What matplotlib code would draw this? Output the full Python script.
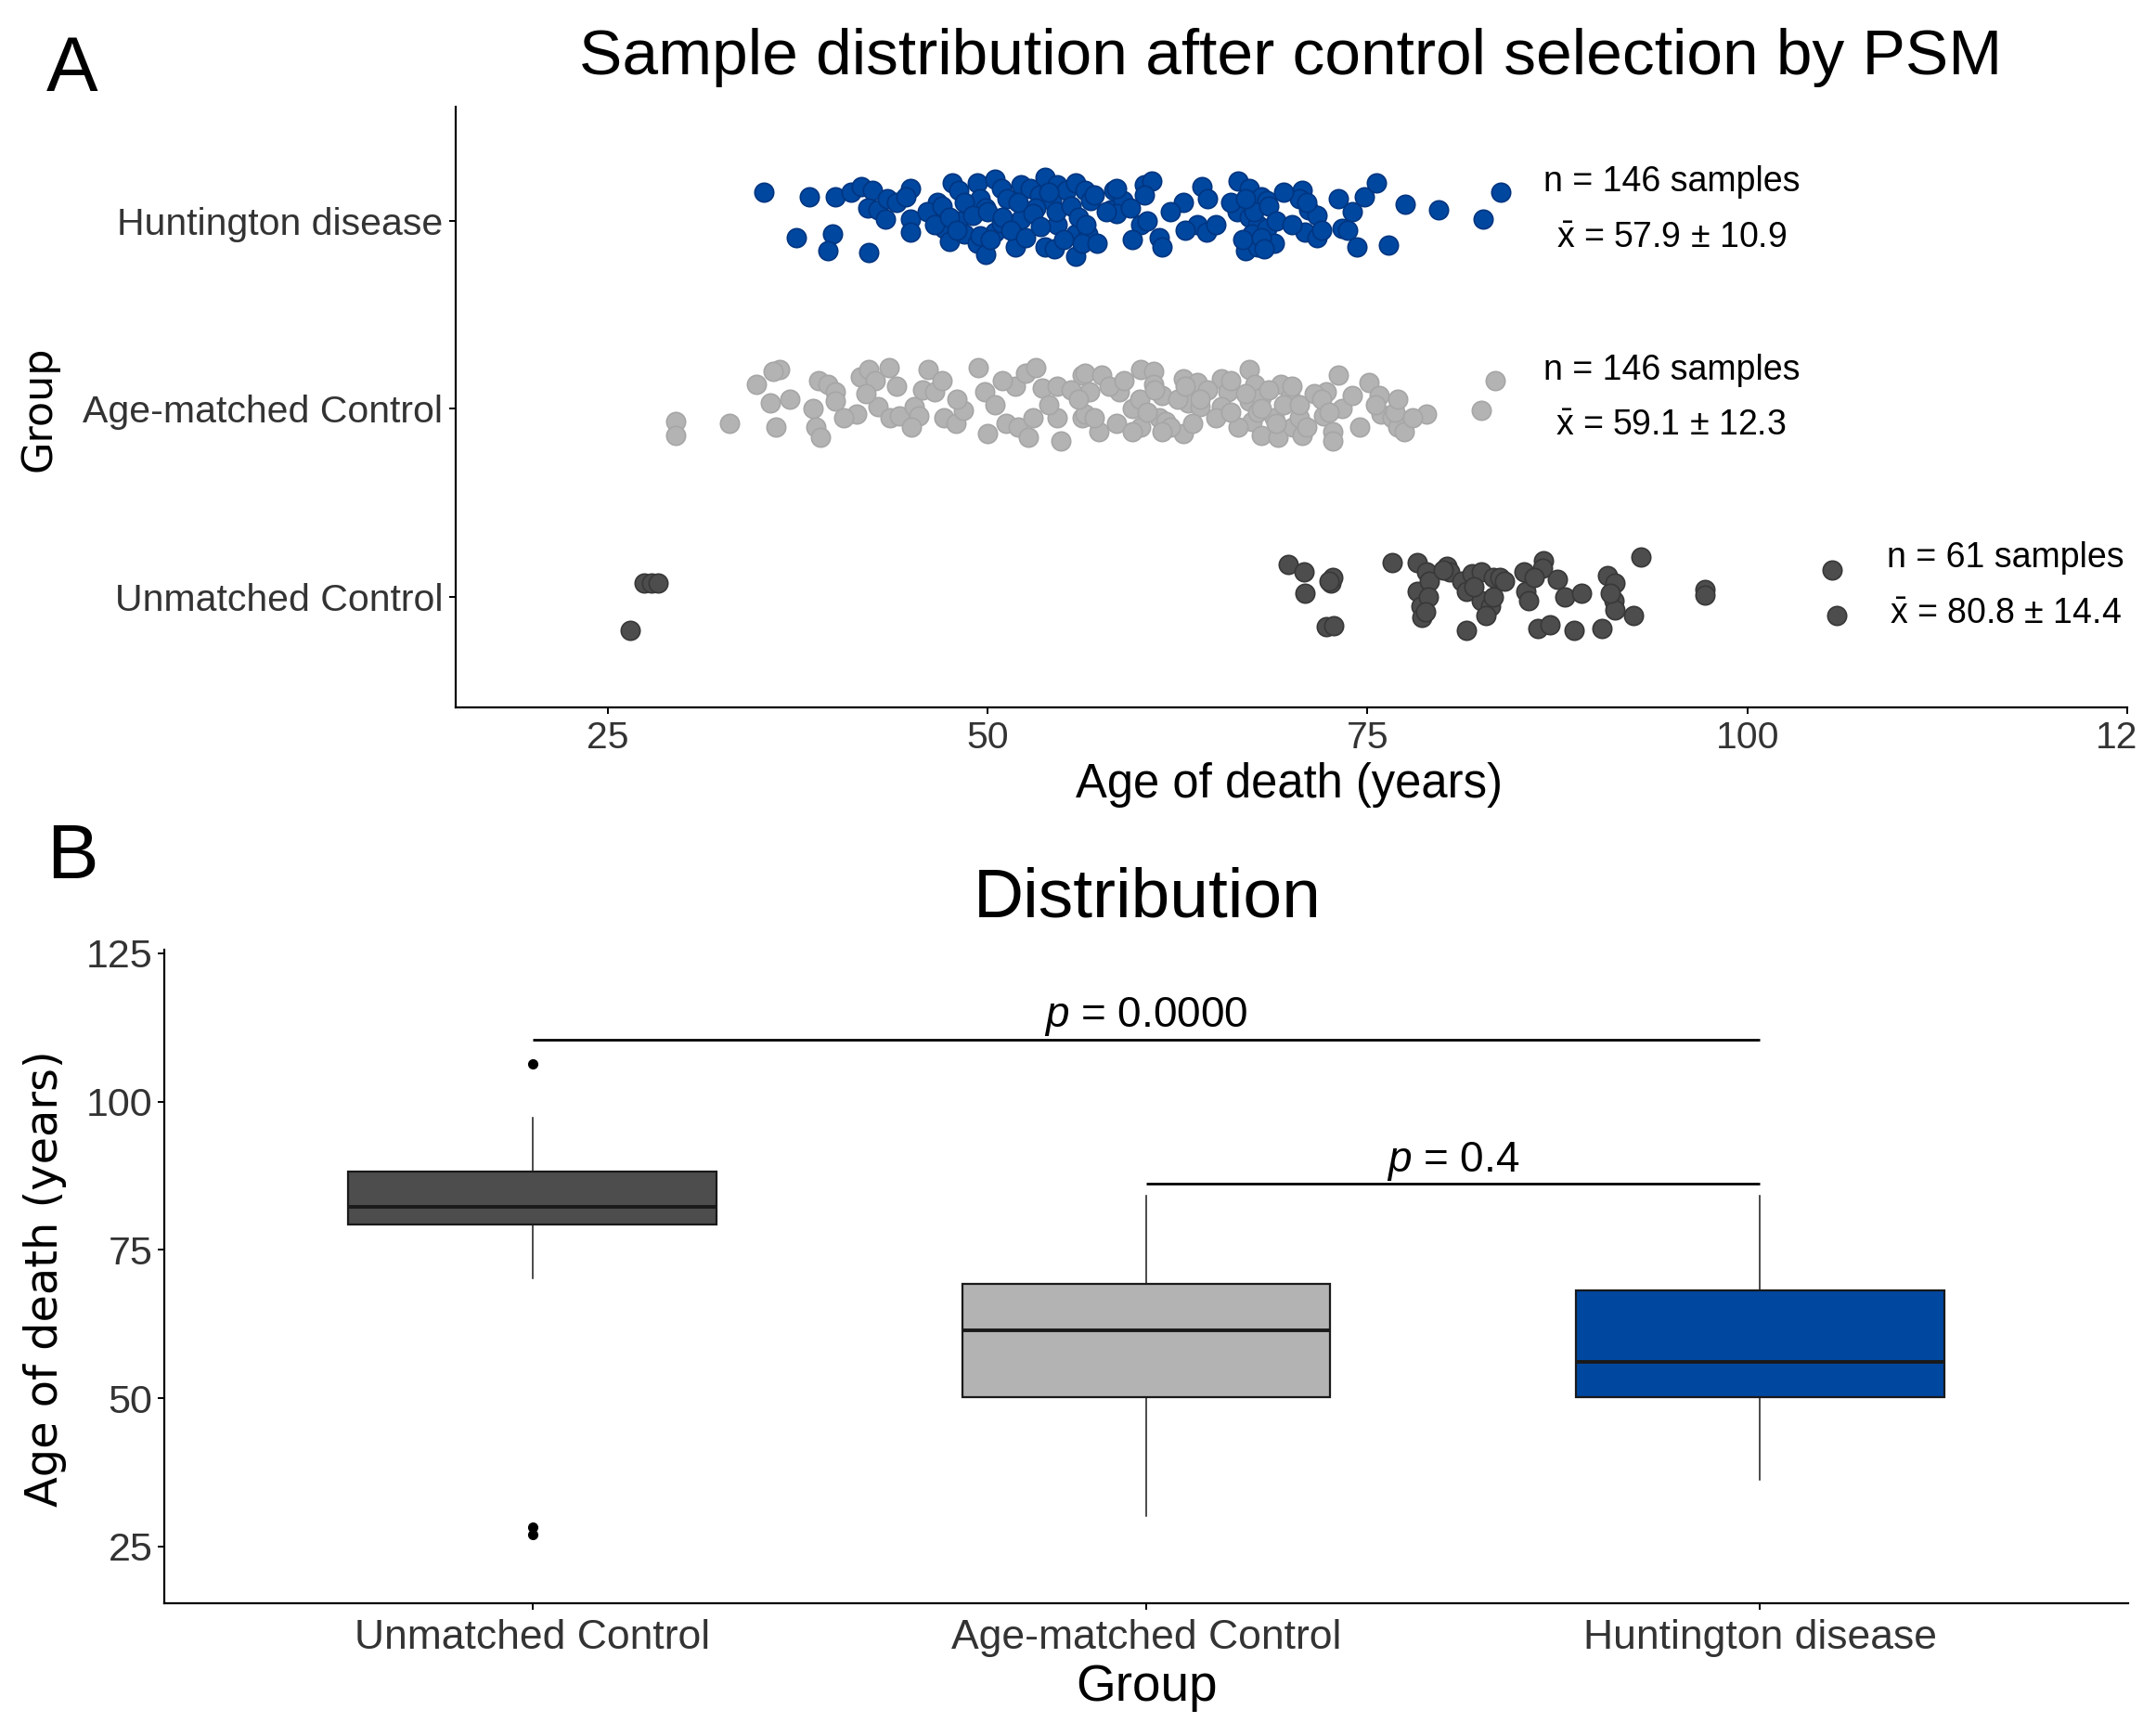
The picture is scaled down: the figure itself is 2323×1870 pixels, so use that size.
import matplotlib.pyplot as plt
from matplotlib.transforms import Bbox

plt.rcParams['font.family'] = ['Liberation Sans', 'DejaVu Sans']
plt.rcParams['mathtext.fontset'] = 'custom'
plt.rcParams['mathtext.rm'] = 'Liberation Sans'
plt.rcParams['mathtext.it'] = 'Liberation Sans:italic'

# groups, bottom to top in panel A and left to right in panel B
groups = ['Unmatched Control', 'Age-matched Control', 'Huntington disease']
fill_colors = ['#4d4d4d', '#b3b3b3', '#0047a0']
edge_colors = ['#383838', '#a6a6a6', '#003580']

group_n = [61, 146, 146]
group_mean = [80.8, 59.1, 57.9]
group_sd = [14.4, 12.3, 10.9]

# ages, with the vertical jitter of each dot
uc_age = [69.8, 70.8, 70.9, 72.6, 72.7, 72.3, 72.8, 76.6, 78.3, 78.9,
          80.2, 80.4, 78.3, 78.5, 78.6, 79.1, 81.2, 81.9, 82.5, 83.3,
          83.7, 81.5, 82.5, 83.1, 82.8, 83.3, 81.5, 86.2, 87.0, 88.6,
          90.4, 85.3, 85.4, 85.6, 86.6, 86.5, 87.5, 88.0, 89.1, 90.8,
          91.3, 91.2, 91.3, 92.5, 93.0, 97.2, 97.2, 105.6, 105.9, 27.4,
          27.9, 28.3, 26.5, 79.0, 80.0, 82.0, 84.0, 78.8, 91.0, 72.5,
          86.0]
uc_jit = [0.17, 0.13, 0.02, 0.07, 0.10, -0.16, -0.155, 0.18, 0.18, 0.13,
          0.16, 0.13, 0.03, -0.05, -0.11, 0.08, 0.08, 0.12, 0.13, 0.10,
          0.10, 0.03, -0.02, -0.05, -0.10, 0.0, -0.18, -0.17, -0.15, -0.18,
          -0.17, 0.13, 0.03, -0.02, 0.19, 0.15, 0.09, 0.0, 0.02, 0.11,
          0.07, -0.02, -0.07, -0.10, 0.21, 0.04, 0.01, 0.14, -0.10, 0.07,
          0.07, 0.07, -0.18, 0.0, 0.14, 0.05, 0.08, -0.08, 0.02, 0.08,
          0.10]

am_age = [29.5, 29.5, 33.0, 34.8, 36.3, 35.9, 35.7, 36.1, 38.5, 38.7,
          39.0, 38.9, 39.5, 40.0, 40.0, 41.4, 41.6, 42.2, 42.6, 43.5,
          42.8, 43.6, 44.2, 45.2, 45.5, 45.7, 46.5, 46.1, 47.1, 47.9,
          48.4, 49.4, 49.8, 50.0, 51.2, 52.0, 52.7, 51.8, 52.5, 53.2,
          53.6, 54.6, 54.6, 54.8, 56.2, 56.2,
          56.4, 57.5, 56.7, 56.4, 57.3, 58.7, 59.5, 60.1, 60.1, 60.9,
          60.9, 61.5, 61.3, 61.7, 62.9, 62.9, 63.8, 63.2, 64.0, 65.4,
          65.8, 65.4, 67.2, 67.6, 67.2, 68.0, 69.3, 69.9, 67.4, 68.0,
          69.1, 68.9, 70.1, 70.7, 70.5, 72.1, 72.7, 72.7, 73.3, 74.0,
          72.3, 73.1, 75.1, 75.8, 75.9, 76.6, 77.0, 77.4, 76.8, 78.9,
          82.5, 83.4,
          37.0, 40.5, 42.0, 44.0, 45.0, 47.0, 48.0, 50.5, 51.0, 53.0,
          54.0, 55.5, 56.0, 57.0, 58.0, 58.5, 59.0, 59.5, 60.0, 60.5,
          61.0, 62.0, 62.5, 63.0, 63.5, 64.5, 65.0, 66.0, 66.5, 67.0,
          67.8, 68.5, 69.0, 69.5, 70.0, 70.5, 71.0, 71.5, 72.0, 72.5,
          74.5, 75.5, 77.0, 78.0, 68.0, 66.0, 64.0, 61.5]
am_jit = [-0.07, -0.14, -0.08, 0.13, 0.21, 0.20, 0.03, -0.10, 0.0, -0.10,
          -0.15, 0.15, 0.13, 0.09, 0.04, -0.03, 0.17, 0.21, 0.15, 0.22,
          0.01, -0.05, -0.04, 0.01, -0.04, 0.10, 0.09, 0.21, -0.05, -0.08,
          -0.01, 0.22, 0.09, -0.13, -0.08, -0.10, -0.15, 0.12, 0.19, 0.22,
          0.11, 0.12, -0.05, -0.17, 0.18, -0.05,
          0.19, 0.18, 0.09, -0.03, -0.12, 0.09, 0.0, -0.10, 0.21, 0.20,
          0.13, 0.07, -0.05, -0.07, -0.13, 0.16, 0.14, 0.03, 0.01, 0.16,
          0.09, 0.01, 0.21, 0.13, 0.04, 0.06, 0.13, 0.06, -0.07, -0.14,
          -0.15, -0.05, -0.10, -0.14, -0.05, -0.04, -0.12, -0.17, 0.0, 0.07,
          0.09, 0.18, 0.14, 0.07, -0.03, -0.05, -0.10, -0.12, -0.02, -0.03,
          -0.01, 0.15,
          0.05, -0.05, 0.08, 0.12, -0.10, 0.15, 0.05, 0.02, 0.15, -0.05,
          0.02, 0.10, 0.05, -0.05, 0.12, -0.08, 0.15, -0.12, 0.05, -0.02,
          0.10, -0.10, 0.05, 0.12, -0.08, 0.10, -0.05, 0.15, -0.10, 0.08,
          -0.02, 0.10, -0.08, 0.02, 0.12, 0.02, -0.10, 0.08, 0.05, -0.02,
          -0.10, 0.02, 0.05, -0.05, 0.0, -0.02, 0.05, -0.12]

hd_age = [35.3, 38.3, 37.4, 39.8, 39.5, 40.0, 42.2, 41.0, 41.7, 42.4,
          42.1, 42.8, 43.4, 43.3, 44.0, 44.9, 44.6, 44.9, 44.9, 46.7,
          46.9, 47.1, 47.7, 48.1, 47.5, 48.1, 48.5, 49.3, 49.5, 49.9,
          49.3, 49.9, 50.5, 50.9, 51.3, 50.5, 50.9, 51.8, 52.2, 52.8,
          53.4, 53.8, 54.2, 53.2, 52.2, 54.6, 55.2, 55.8, 56.4, 56.8,
          54.6, 53.8, 54.4, 55.8, 56.6, 55.8, 56.2, 58.3, 58.1, 58.9,
          58.5, 58.5, 59.4, 60.1, 60.3, 60.8, 60.3, 61.3, 61.5, 62.9,
          64.1, 63.8, 64.4, 65.0, 66.5, 67.2, 68.0, 68.4, 66.4, 67.2,
          67.8, 67.4, 67.0, 67.8, 68.4, 68.9, 70.7, 70.5, 71.1, 71.7,
          70.9, 71.7, 73.1, 73.3, 73.7, 74.3, 74.8, 75.6, 76.4, 77.5,
          79.7, 82.6, 83.8,
          46.0, 46.5, 47.0, 47.5, 48.0, 48.5, 49.0, 49.5, 50.0, 50.2,
          51.0, 51.5, 52.0, 52.5, 53.0, 53.5, 54.0, 54.5, 55.0, 55.5,
          56.0, 56.5, 57.0, 57.2, 57.8, 66.0, 66.8, 67.5, 68.0, 68.5,
          69.0, 67.0, 68.2, 69.5, 70.0, 71.0, 72.0, 62.0, 63.0, 64.5,
          60.5, 59.5, 74.0]
hd_jit = [0.15, 0.13, -0.09, -0.07, -0.16, 0.13, -0.17, 0.15, 0.18, 0.16,
          0.07, 0.06, 0.12, 0.01, 0.10, 0.17, 0.13, 0.01, -0.06, 0.10,
          0.04, -0.04, 0.20, 0.16, -0.11, 0.0, -0.07, 0.20, 0.12, 0.07,
          -0.12, -0.18, 0.22, 0.17, 0.12, -0.06, -0.01, -0.14, 0.19, 0.17,
          0.14, 0.23, 0.11, 0.07, 0.01, 0.19, 0.16, 0.20, 0.16, 0.11,
          -0.02, -0.14, -0.15, -0.07, -0.07, -0.19, -0.12, 0.16, 0.06, 0.11,
          0.17, 0.04, 0.07, -0.02, 0.19, 0.21, 0.14, -0.09, -0.14, 0.10,
          0.18, -0.02, -0.06, -0.02, 0.21, 0.17, 0.13, 0.11, 0.05, 0.02,
          -0.02, -0.07, -0.16, -0.14, -0.04, -0.12, 0.16, 0.12, 0.06, 0.03,
          -0.06, -0.09, 0.12, -0.04, -0.05, -0.14, 0.13, 0.20, -0.13, 0.09,
          0.06, 0.01, 0.15,
          0.05, -0.02, 0.08, 0.02, -0.05, 0.10, 0.03, -0.08, 0.05, -0.10,
          0.02, -0.05, 0.10, -0.09, 0.04, -0.03, 0.15, 0.05, -0.10, 0.08,
          0.02, -0.02, 0.14, -0.12, 0.05, 0.10, -0.10, 0.05, -0.09, 0.08,
          0.0, 0.12, -0.15, 0.15, -0.02, 0.10, -0.05, 0.05, -0.05, 0.12,
          0.0, -0.10, 0.05]

# box plot summary
box_whislo = [70.2, 30.1, 36.2]
box_q1 = [79.3, 50.2, 50.2]
box_med = [82.3, 61.4, 56.2]
box_q3 = [88.2, 69.3, 68.1]
box_whishi = [97.3, 84.2, 84.2]
box_fliers = [[106.4, 28.3, 27.1], [], []]

sig_pairs = [(1, 3), (2, 3)]
sig_y = [110.5, 86.1]
sig_p = ['0.0000', '0.4']

W, H = 2323, 1870


def fx(px):
    return px / W


def fy(py):
    return 1 - py / H


fig = plt.figure(figsize=(W / 100, H / 100), dpi=100)

# ---------------- panel A ----------------
ax_a = fig.add_axes([fx(491), fy(762), (2292 - 491) / W, (762 - 115) / H])
jitter_data = [(uc_age, uc_jit), (am_age, am_jit), (hd_age, hd_jit)]
for i, (ages, jit) in enumerate(jitter_data):
    ax_a.scatter(ages, [i + 1 + j for j in jit], s=215, c=fill_colors[i],
                 edgecolors=edge_colors[i], linewidths=1.2, zorder=3)

ann_x = [117.0, 95.0, 95.0]
for i in range(3):
    ax_a.text(ann_x[i], i + 1 + 0.205, f"n = {group_n[i]} samples",
              ha='center', va='center', fontsize=27)
    ax_a.text(ann_x[i], i + 1 - 0.095,
              r'$\bar{\mathrm{x}}$' + f" = {group_mean[i]} ± {group_sd[i]}",
              ha='center', va='center', fontsize=27)

ax_a.set_xlim(15, 125)
ax_a.set_ylim(0.41, 3.607)
ax_a.set_xticks([25, 50, 75, 100, 125])
ax_a.set_yticks([1, 2, 3])
ax_a.set_yticklabels(groups)
ax_a.spines[['top', 'right']].set_visible(False)
for sp in ['left', 'bottom']:
    ax_a.spines[sp].set_linewidth(1.6)
ax_a.tick_params(axis='x', labelsize=29.5, length=5, width=1.4, pad=5,
                 labelcolor='#333333')
ax_a.tick_params(axis='y', labelsize=29.5, length=5, width=1.4, pad=5, labelcolor='#333333')
# the last tick label is cut by the picture edge
last = ax_a.get_xticklabels()[-1]
last.set_clip_box(Bbox.from_extents(0, 0, 2303, H))
last.set_clip_on(True)

plt.figtext(fx(1391), fy(62), 'Sample distribution after control selection by PSM',
            ha='center', va='center', fontsize=50)
plt.figtext(fx(1389), fy(846), 'Age of death (years)', ha='center', va='center', fontsize=36.5)
plt.figtext(fx(42), fy(440), 'Group', ha='center', va='center', rotation=90,
            fontsize=32, family='DejaVu Sans')
plt.figtext(fx(50), fy(76), 'A', ha='left', va='center', fontsize=60)

# ---------------- panel B ----------------
ax_b = fig.add_axes([fx(177), fy(1727), (2293 - 177) / W, (1727 - 1023) / H])
stats = []
for i in range(3):
    stats.append(dict(whislo=box_whislo[i], q1=box_q1[i], med=box_med[i],
                      q3=box_q3[i], whishi=box_whishi[i], fliers=box_fliers[i]))
bp = ax_b.bxp(stats, positions=[1, 2, 3], widths=0.6, patch_artist=True,
              showcaps=False,
              boxprops=dict(linewidth=1.6, edgecolor='#1a1a1a'),
              medianprops=dict(linewidth=2.8, color='#1a1a1a'),
              whiskerprops=dict(linewidth=1.1, color='#1a1a1a'),
              flierprops=dict(marker='o', markersize=7, markerfacecolor='black',
                              markeredgecolor='black'))
for patch, col in zip(bp['boxes'], fill_colors):
    patch.set_facecolor(col)

for (x0, x1), y, p in zip(sig_pairs, sig_y, sig_p):
    ax_b.plot([x0, x1], [y, y], color='black', linewidth=2, solid_capstyle='butt')
    ax_b.text((x0 + x1) / 2, y + 0.3, r'$p$' + f" = {p}", ha='center', va='bottom',
              fontsize=33)

ax_b.set_xlim(0.4, 3.6)
ax_b.set_ylim(15.45, 125.6)
ax_b.set_xticks([1, 2, 3])
ax_b.set_xticklabels(groups)
ax_b.set_yticks([25, 50, 75, 100, 125])
ax_b.spines[['top', 'right']].set_visible(False)
for sp in ['left', 'bottom']:
    ax_b.spines[sp].set_linewidth(1.6)
ax_b.tick_params(axis='x', labelsize=32, length=5, width=1.4, pad=7, labelcolor='#333333')
ax_b.tick_params(axis='y', labelsize=31, length=5, width=1.4, pad=4, labelcolor='#333333')

plt.figtext(fx(1236), fy(968), 'Distribution', ha='center', va='center', fontsize=54)
plt.figtext(fx(1236), fy(1818), 'Group', ha='center', va='center', fontsize=39.5)
plt.figtext(fx(49), fy(1377), 'Age of death (years)', ha='center', va='center',
            rotation=90, fontsize=34.5, family='DejaVu Sans')
plt.figtext(fx(50), fy(924), 'B', ha='left', va='center', fontsize=60)

fig.savefig('out.png', dpi=100)
